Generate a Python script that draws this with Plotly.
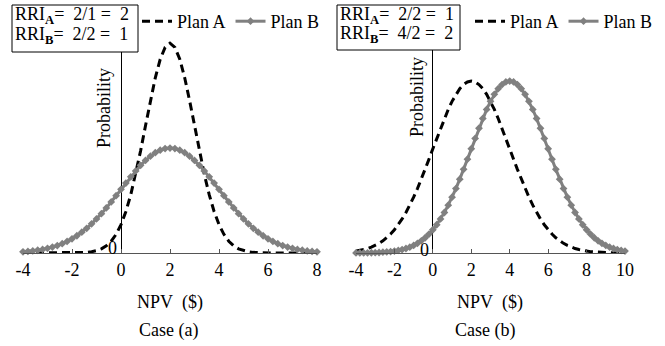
import plotly.graph_objects as go

# NPV grid ($)
npv_a = [-4.0, -3.8, -3.6, -3.4, -3.2, -3.0, -2.8, -2.6, -2.4, -2.2, -2.0, -1.8, -1.6, -1.4, -1.2,
         -1.0, -0.8, -0.6, -0.4, -0.2, 0.0, 0.2, 0.4, 0.6, 0.8, 1.0, 1.2, 1.4, 1.6, 1.8, 2.0,
         2.2, 2.4, 2.6, 2.8, 3.0, 3.2, 3.4, 3.6, 3.8, 4.0, 4.2, 4.4, 4.6, 4.8, 5.0, 5.2, 5.4,
         5.6, 5.8, 6.0, 6.2, 6.4, 6.6, 6.8, 7.0, 7.2, 7.4, 7.6, 7.8, 8.0]
npv_b = [-4.0, -3.8, -3.6, -3.4, -3.2, -3.0, -2.8, -2.6, -2.4, -2.2, -2.0, -1.8, -1.6, -1.4, -1.2,
         -1.0, -0.8, -0.6, -0.4, -0.2, 0.0, 0.2, 0.4, 0.6, 0.8, 1.0, 1.2, 1.4, 1.6, 1.8, 2.0,
         2.2, 2.4, 2.6, 2.8, 3.0, 3.2, 3.4, 3.6, 3.8, 4.0, 4.2, 4.4, 4.6, 4.8, 5.0, 5.2, 5.4,
         5.6, 5.8, 6.0, 6.2, 6.4, 6.6, 6.8, 7.0, 7.2, 7.4, 7.6, 7.8, 8.0, 8.2, 8.4, 8.6, 8.8,
         9.0, 9.2, 9.4, 9.6, 9.8, 10.0]

# Case (a)
prob_a_planA = [0, 0, 0, 0, 0, 0, 0, 0, 0, 0,
                0.0001, 0.0003, 0.0006, 0.0012, 0.0024, 0.0044, 0.0079, 0.0136, 0.0224, 0.0355,
                0.0540, 0.0790, 0.1109, 0.1497, 0.1942, 0.2420, 0.2897, 0.3332, 0.3683, 0.3910,
                0.3989,
                0.3910, 0.3683, 0.3332, 0.2897, 0.2420, 0.1942, 0.1497, 0.1109, 0.0790, 0.0540,
                0.0355, 0.0224, 0.0136, 0.0079, 0.0044, 0.0024, 0.0012, 0.0006, 0.0003, 0.0001,
                0, 0, 0, 0, 0, 0, 0, 0, 0, 0]
prob_a_planB = [0.0022, 0.0030, 0.0040, 0.0052, 0.0068, 0.0088, 0.0112, 0.0141, 0.0177, 0.0220,
                0.0270, 0.0328, 0.0395, 0.0470, 0.0555, 0.0648, 0.0748, 0.0857, 0.0971, 0.1089,
                0.1210, 0.1330, 0.1448, 0.1561, 0.1666, 0.1760, 0.1841, 0.1907, 0.1955, 0.1985,
                0.1995,
                0.1985, 0.1955, 0.1907, 0.1841, 0.1760, 0.1666, 0.1561, 0.1448, 0.1330, 0.1210,
                0.1089, 0.0971, 0.0857, 0.0748, 0.0648, 0.0555, 0.0470, 0.0395, 0.0328, 0.0270,
                0.0220, 0.0177, 0.0141, 0.0112, 0.0088, 0.0068, 0.0052, 0.0040, 0.0030, 0.0022]

# Case (b)
prob_b_planA = [0.0022, 0.0030, 0.0040, 0.0052, 0.0068, 0.0088, 0.0112, 0.0141, 0.0177, 0.0220,
                0.0270, 0.0328, 0.0395, 0.0470, 0.0555, 0.0648, 0.0748, 0.0857, 0.0971, 0.1089,
                0.1210, 0.1330, 0.1448, 0.1561, 0.1666, 0.1760, 0.1841, 0.1907, 0.1955, 0.1985,
                0.1995,
                0.1985, 0.1955, 0.1907, 0.1841, 0.1760, 0.1666, 0.1561, 0.1448, 0.1330, 0.1210,
                0.1089, 0.0971, 0.0857, 0.0748, 0.0648, 0.0555, 0.0470, 0.0395, 0.0328, 0.0270,
                0.0220, 0.0177, 0.0141, 0.0112, 0.0088, 0.0068, 0.0052, 0.0040, 0.0030, 0.0022,
                0.0016, 0.0012, 0.0009, 0.0006, 0.0004, 0.0003, 0.0002, 0.0001, 0.0001, 0.0001]
prob_b_planB = [0.0001, 0.0001, 0.0001, 0.0002, 0.0003, 0.0004, 0.0006, 0.0009, 0.0012, 0.0016,
                0.0022, 0.0030, 0.0040, 0.0052, 0.0068, 0.0088, 0.0112, 0.0141, 0.0177, 0.0220,
                0.0270, 0.0328, 0.0395, 0.0470, 0.0555, 0.0648, 0.0748, 0.0857, 0.0971, 0.1089,
                0.1210, 0.1330, 0.1448, 0.1561, 0.1666, 0.1760, 0.1841, 0.1907, 0.1955, 0.1985,
                0.1995,
                0.1985, 0.1955, 0.1907, 0.1841, 0.1760, 0.1666, 0.1561, 0.1448, 0.1330, 0.1210,
                0.1089, 0.0971, 0.0857, 0.0748, 0.0648, 0.0555, 0.0470, 0.0395, 0.0328, 0.0270,
                0.0220, 0.0177, 0.0141, 0.0112, 0.0088, 0.0068, 0.0052, 0.0040, 0.0030, 0.0022]

ticks_a = [-4, -2, 0, 2, 4, 6, 8]
ticklabels_a = ["-4", "-2", "0", "2", "4", "6", "8"]
ticks_b = [-4, -2, 0, 2, 4, 6, 8, 10]
ticklabels_b = ["-4", "-2", "0", "2", "4", "6", "8", "10"]
series_names = ["Plan A", "Plan B"]
rri_a = ["RRI<sub><b>A</b></sub>=\u00a0 2/1 =\u00a0 2", "RRI<sub><b>B</b></sub>=\u00a0 2/2 =\u00a0 1"]
rri_b = ["RRI<sub><b>A</b></sub>=\u00a0 2/2 =\u00a0 1", "RRI<sub><b>B</b></sub>=\u00a0 4/2 =\u00a0 2"]
case_labels = ["Case (a)", "Case (b)"]

FONT = "Liberation Serif"
W, H = 665, 346
T, B = 10, 93
PH = H - T - B
base_px = H - B


def px_x(px):
    return px / W


def px_y(py):
    return (base_px - py) / PH


fig = go.Figure()

dash_line = dict(color="black", width=3, dash="8px,5px")
gray_line = dict(color="#808080", width=3)
gray_marker = dict(symbol="diamond", size=6, color="#808080")

fig.add_trace(go.Scatter(x=npv_a, y=prob_a_planA, name=series_names[0], mode="lines",
                         line=dash_line, xaxis="x", yaxis="y", legend="legend", cliponaxis=False))
fig.add_trace(go.Scatter(x=npv_a, y=prob_a_planB, name=series_names[1], mode="lines+markers",
                         line=gray_line, marker=gray_marker, xaxis="x", yaxis="y",
                         legend="legend", cliponaxis=False))
fig.add_trace(go.Scatter(x=npv_b, y=prob_b_planA, name=series_names[0], mode="lines",
                         line=dash_line, xaxis="x2", yaxis="y2", legend="legend2", cliponaxis=False))
fig.add_trace(go.Scatter(x=npv_b, y=prob_b_planB, name=series_names[1], mode="lines+markers",
                         line=gray_line, marker=gray_marker, xaxis="x2", yaxis="y2",
                         legend="legend2", cliponaxis=False))

xcommon = dict(showline=True, linecolor="#555555", linewidth=1, ticks="inside", ticklen=4,
               tickcolor="#555555", showgrid=False, zeroline=True, zerolinecolor="black",
               zerolinewidth=1, automargin=False,
               tickfont=dict(family=FONT, size=18, color="black"))

legend_common = dict(orientation="h", xanchor="left", yanchor="top", itemwidth=30,
                     font=dict(family=FONT, size=18, color="black"), bgcolor="rgba(0,0,0,0)")

fig.update_layout(
    width=W, height=H,
    margin=dict(l=0, r=0, t=T, b=B, autoexpand=False),
    paper_bgcolor="white", plot_bgcolor="white",
    font=dict(family=FONT, size=18, color="black"),
    xaxis=dict(domain=[px_x(23), px_x(317)], range=[-4, 8], tickvals=ticks_a,
               ticktext=ticklabels_a, anchor="y", **xcommon),
    yaxis=dict(domain=[0, 1], range=[0, 0.462], visible=False, anchor="x"),
    xaxis2=dict(domain=[px_x(356), px_x(625)], range=[-4, 10], tickvals=ticks_b,
                ticktext=ticklabels_b, anchor="y2", **xcommon),
    yaxis2=dict(domain=[0, 1], range=[0, 0.282], visible=False, anchor="x2"),
    legend=dict(x=px_x(137), y=px_y(3), **legend_common),
    legend2=dict(x=px_x(470), y=px_y(3), **legend_common),
    showlegend=True,
)

# RRI boxes
for (x0, x1, y0, y1) in [(12, 138, 5, 52), (337, 460, 5, 50)]:
    fig.add_shape(type="rect", xref="paper", yref="paper", layer="above",
                  x0=px_x(x0), x1=px_x(x1), y0=px_y(y0), y1=px_y(y1),
                  line=dict(color="black", width=1), fillcolor="white")

ann_font = dict(family=FONT, size=18, color="black")
annotations = [
    dict(text=rri_a[0], x=px_x(14), y=px_y(15), xanchor="left"),
    dict(text=rri_a[1], x=px_x(14), y=px_y(36), xanchor="left"),
    dict(text=rri_b[0], x=px_x(339), y=px_y(15), xanchor="left"),
    dict(text=rri_b[1], x=px_x(339), y=px_y(35), xanchor="left"),
    dict(text="Probability", x=px_x(104), y=px_y(108), textangle=-90),
    dict(text="Probability", x=px_x(417), y=px_y(97), textangle=-90),
    dict(text="0", x=px_x(112), y=px_y(248)),
    dict(text="0", x=px_x(424), y=px_y(250)),
    dict(text="NPV\u00a0 ($)", x=px_x(170), y=px_y(302)),
    dict(text="NPV\u00a0 ($)", x=px_x(490), y=px_y(302)),
    dict(text=case_labels[0], x=px_x(168), y=px_y(330)),
    dict(text=case_labels[1], x=px_x(485), y=px_y(330)),
]
for a in annotations:
    a.setdefault("xanchor", "center")
    a.setdefault("yanchor", "middle")
    fig.add_annotation(xref="paper", yref="paper", showarrow=False, font=ann_font,
                       borderpad=0, **a)

fig.write_html("out.html", config={"displayModeBar": False},
               post_script="document.body.style.margin='0';document.body.style.padding='0';")
